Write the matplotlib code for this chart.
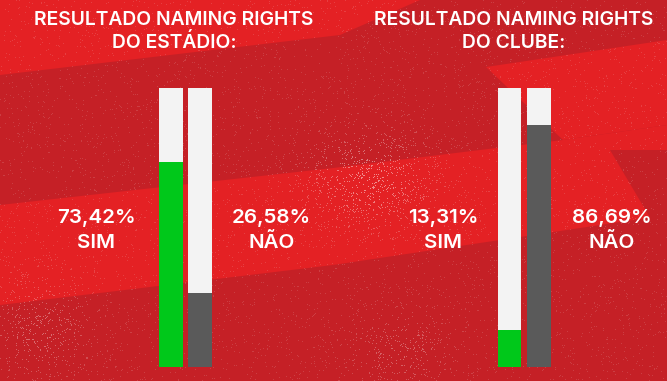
import numpy as np
import matplotlib
matplotlib.use("Agg")
import matplotlib.pyplot as plt
from matplotlib.patches import Polygon

# --- data -------------------------------------------------------------
titles_line1 = ["RESULTADO NAMING RIGHTS", "RESULTADO NAMING RIGHTS"]
titles_line2 = ["DO ESTÁDIO:", "DO CLUBE:"]
answer_labels = ["SIM", "NÃO"]
sim_pct = [73.42, 13.31]
nao_pct = [26.58, 86.69]

# --- style ------------------------------------------------------------
W, H = 667, 381
DARK_RED = "#c52026"
BRIGHT_RED = "#e42124"
GREEN = "#00c81a"
GREY = "#5a5a5a"
TRACK = "#f3f3f3"
TITLE_FONT = "Inter"
LABEL_FONT = "Inter"

plt.rcParams["font.family"] = ["Open Sans", "DejaVu Sans"]

fig = plt.figure(figsize=(W / 100, H / 100), dpi=100)
fig.patch.set_facecolor(DARK_RED)

# background layer in pixel coordinates
bg = fig.add_axes([0, 0, 1, 1])
bg.set_xlim(0, W)
bg.set_ylim(H, 0)
bg.axis("off")
bg.set_facecolor(DARK_RED)

shapes = [
    [(0, 0), (420, 0), (340, 35), (0, 75)],
    [(0, 205), (333, 168), (480, 150), (563, 140), (667, 125),
     (667, 215), (333, 265), (0, 305)],
    [(486, 67), (667, 40), (667, 125), (563, 140)],
]
for pts in shapes:
    bg.add_patch(Polygon(pts, closed=True, facecolor=BRIGHT_RED,
                         edgecolor="none", zorder=1))
bg.add_patch(Polygon([(610, 150), (667, 150), (667, 250), (655, 226)],
                     closed=True, facecolor=DARK_RED, edgecolor="none",
                     zorder=1))

# paper grain
rng = np.random.default_rng(7)
grain = rng.random((H, W))
yy, xx = np.mgrid[0:H, 0:W]
cloud = np.exp(-(((xx - 370) / 60.0) ** 2 + ((yy - 180) / 45.0) ** 2))
cloud += 0.6 * np.exp(-(((xx - 40) / 50.0) ** 2 + ((yy - 330) / 50.0) ** 2))
cloud += 0.5 * np.exp(-(((xx - 400) / 50.0) ** 2 + ((yy - 350) / 40.0) ** 2))
dots = (grain > 0.975 - 0.08 * cloud).astype(float)
rgba = np.zeros((H, W, 4))
rgba[..., :3] = 1.0
rgba[..., 3] = dots * (0.14 + 0.35 * cloud)
bg.imshow(rgba, extent=(0, W, H, 0), zorder=2, interpolation="nearest")
bg.set_xlim(0, W)
bg.set_ylim(H, 0)

# --- charts -----------------------------------------------------------
bar_left = [159.0, 497.7]
bar_span = 53.0
bar_top, bar_bottom = 88.0, 366.7
title_cx = [174, 514]
sim_cx = [96.5, 443]
nao_cx = [271.5, 612]

for i in range(2):
    ax = fig.add_axes([bar_left[i] / W, (H - bar_bottom) / H,
                       bar_span / W, (bar_bottom - bar_top) / H])
    ax.patch.set_alpha(0)
    ax.axis("off")
    ax.set_xlim(-0.405, 1.405)
    ax.set_ylim(0, 100)
    pos = [0, 1]
    ax.bar(pos, [100, 100], width=0.81, color=TRACK, zorder=1)
    ax.bar(pos, [sim_pct[i], nao_pct[i]], width=0.81,
           color=[GREEN, GREY], zorder=2)

    # titles
    for y, line in ((25, titles_line1[i]), (48, titles_line2[i])):
        bg.text(title_cx[i], y, line, ha="center", va="baseline",
                color="white", fontsize=13.9, fontweight="semibold",
                family=[TITLE_FONT, "DejaVu Sans"], zorder=5)

    # value labels
    for cx, val, lab in ((sim_cx[i], sim_pct[i], answer_labels[0]),
                         (nao_cx[i], nao_pct[i], answer_labels[1])):
        txt = f"{val:.2f}".replace(".", ",") + "%"
        bg.text(cx, 223, txt, ha="center", va="baseline", color="white",
                fontsize=14.8, fontweight="semibold",
                family=[LABEL_FONT, "DejaVu Sans"], zorder=5)
        bg.text(cx, 248, lab, ha="center", va="baseline", color="white",
                fontsize=14.8, fontweight="semibold",
                family=[LABEL_FONT, "DejaVu Sans"], zorder=5)

fig.savefig("out.png", dpi=100, facecolor=fig.get_facecolor())
